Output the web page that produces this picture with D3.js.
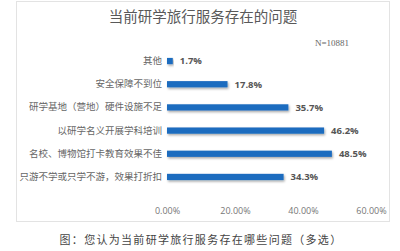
<!DOCTYPE html>
<html>
<head>
<meta charset="utf-8">
<script src="https://cdn.jsdelivr.net/npm/d3@7"></script>
<style>
  body { margin: 0; background: #fff; }
  svg { display: block; font-family: "Noto Sans CJK SC", "Noto Sans", sans-serif; }
</style>
</head>
<body>
<div id="chart"></div>
<script>
var categories = ["其他", "安全保障不到位", "研学基地（营地）硬件设施不足", "以研学名义开展学科培训", "名校、博物馆打卡教育效果不佳", "只游不学或只学不游，效果打折扣"];
var values = [1.7, 17.8, 35.7, 46.2, 48.5, 34.3];
var ticks = [0, 20, 40, 60];

var width = 400, height = 251;

var svg = d3.select("#chart").append("svg")
  .attr("width", width)
  .attr("height", height);

// card frame
svg.append("rect")
  .attr("x", 16.5).attr("y", 1.5)
  .attr("width", 373).attr("height", 220)
  .attr("fill", "#fff")
  .attr("stroke", "#e3e3e3");

svg.append("text")
  .attr("x", 203).attr("y", 22)
  .attr("text-anchor", "middle")
  .attr("font-size", 14.5)
  .attr("fill", "#595959")
  .text("当前研学旅行服务存在的问题");

svg.append("text")
  .attr("x", 315).attr("y", 46)
  .attr("font-family", "Liberation Serif, serif")
  .attr("font-size", 9)
  .attr("fill", "#666")
  .text("N=10881");

var x = d3.scaleLinear().domain([0, 60]).range([167, 371]);
var y = d3.scaleBand().domain(categories).range([41, 197]).padding(0.73);

var defs = svg.append("defs");
var f = defs.append("filter").attr("id", "shadow").attr("x", "-5%").attr("y", "-50%").attr("width", "110%").attr("height", "250%");
f.append("feDropShadow").attr("dx", 1).attr("dy", 1.5).attr("stdDeviation", 0.8).attr("flood-color", "#000").attr("flood-opacity", 0.35);

svg.selectAll(".bar")
  .data(values)
  .enter().append("rect")
  .attr("class", "bar")
  .attr("x", x(0))
  .attr("y", function(d, i) { return y(categories[i]); })
  .attr("width", function(d) { return x(d) - x(0); })
  .attr("height", y.bandwidth())
  .attr("fill", "#1c6cbf")
  .attr("filter", "url(#shadow)");

svg.selectAll(".val")
  .data(values)
  .enter().append("text")
  .attr("class", "val")
  .attr("x", function(d) { return x(d) + 7; })
  .attr("y", function(d, i) { return y(categories[i]) + y.bandwidth() / 2; })
  .attr("dy", "0.35em")
  .attr("font-family", "Open Sans, sans-serif")
  .attr("font-weight", "bold")
  .attr("font-size", 9.5)
  .attr("fill", "#555")
  .text(function(d) { return d.toFixed(1) + "%"; });

var yAxis = svg.append("g")
  .attr("transform", "translate(" + (x(0) - 5) + ",0)")
  .call(d3.axisLeft(y).tickSize(0).tickPadding(0));
yAxis.select(".domain").remove();
yAxis.selectAll("text")
  .attr("font-family", "Noto Sans CJK SC, sans-serif")
  .attr("font-size", 9.5)
  .attr("fill", "#666");

var xAxis = svg.append("g")
  .attr("transform", "translate(0,202)")
  .call(d3.axisBottom(x).tickValues(ticks).tickSize(0).tickPadding(6)
    .tickFormat(function(d) { return d.toFixed(2) + "%"; }));
xAxis.select(".domain").remove();
xAxis.selectAll("text")
  .attr("font-family", "Open Sans, sans-serif")
  .attr("font-size", 9)
  .attr("fill", "#777");

svg.append("text")
  .attr("x", 201).attr("y", 244)
  .attr("text-anchor", "middle")
  .attr("font-size", 11)
  .attr("letter-spacing", 1.3)
  .attr("fill", "#444")
  .text("图：您认为当前研学旅行服务存在哪些问题（多选）");
</script>
</body>
</html>
